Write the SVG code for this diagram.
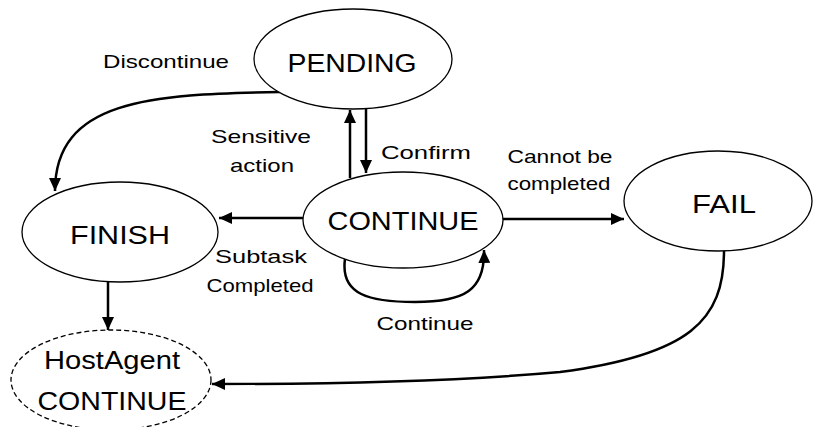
<svg xmlns="http://www.w3.org/2000/svg" width="813" height="427" viewBox="0 0 813 427">
  <style>
    .node { fill: #ffffff; stroke: #000000; stroke-width: 1.3; }
    .dashed { stroke-dasharray: 5 3; }
    .edge { fill: none; stroke: #000000; stroke-width: 2.5; marker-end: url(#arrow); }
    .state { font-family: "Liberation Sans", Arial, sans-serif; font-size: 25px; fill: #000; text-anchor: middle; }
    .label { font-family: "Liberation Sans", Arial, sans-serif; font-size: 19px; fill: #000; text-anchor: middle; }
  </style>
  <defs>
    <marker id="arrow" markerUnits="userSpaceOnUse" markerWidth="13" markerHeight="12" refX="13" refY="6" orient="auto">
      <path d="M0,0 L13,6 L0,12 z" fill="#000"/>
    </marker>
  </defs>

  <rect width="813" height="427" fill="#ffffff"/>

  <!-- transitions -->
  <g id="edges">
    <path class="edge" d="M280 92 C150 94, 55 100, 55 191"/>
    <path class="edge" d="M350 178 L350 110"/>
    <path class="edge" d="M366 108 L366 173"/>
    <path class="edge" d="M303 218 L219 218"/>
    <path class="edge" d="M502 219 L624 219"/>
    <path class="edge" d="M345 259 C340 295, 370 302, 415 302 C465 302, 485 290, 484 250"/>
    <path class="edge" d="M108 282 L108 330"/>
    <path class="edge" d="M724 251 C724 320, 690 355, 560 372 C450 382, 300 384, 212 384"/>
  </g>

  <g id="pending">
    <ellipse class="node" cx="353" cy="59" rx="99" ry="50"/>
    <text class="state" x="352" y="72" textLength="129" lengthAdjust="spacingAndGlyphs">PENDING</text>
  </g>

  <g id="continue">
    <ellipse class="node" cx="403" cy="220" rx="100" ry="48"/>
    <text class="state" x="403" y="230" textLength="151" lengthAdjust="spacingAndGlyphs">CONTINUE</text>
  </g>

  <g id="finish">
    <ellipse class="node" cx="120" cy="232" rx="98" ry="50"/>
    <text class="state" x="120" y="244" textLength="100" lengthAdjust="spacingAndGlyphs">FINISH</text>
  </g>

  <g id="fail">
    <ellipse class="node" cx="718" cy="201" rx="94" ry="50"/>
    <text class="state" x="724" y="213" textLength="64" lengthAdjust="spacingAndGlyphs">FAIL</text>
  </g>

  <g id="hostagent-continue">
    <ellipse class="node dashed" cx="111" cy="380" rx="100" ry="50"/>
    <text class="state" x="112" y="369" textLength="136" lengthAdjust="spacingAndGlyphs">HostAgent</text>
    <text class="state" x="112" y="410" textLength="149" lengthAdjust="spacingAndGlyphs">CONTINUE</text>
  </g>

  <!-- transition labels -->
  <g id="labels">
    <text class="label" x="166" y="68" textLength="126" lengthAdjust="spacingAndGlyphs">Discontinue</text>
    <text class="label" x="261" y="143" textLength="100" lengthAdjust="spacingAndGlyphs">Sensitive</text>
    <text class="label" x="262" y="172" textLength="64" lengthAdjust="spacingAndGlyphs">action</text>
    <text class="label" x="426" y="159" textLength="90" lengthAdjust="spacingAndGlyphs">Confirm</text>
    <text class="label" x="560" y="163" textLength="105" lengthAdjust="spacingAndGlyphs">Cannot be</text>
    <text class="label" x="559" y="190" textLength="103" lengthAdjust="spacingAndGlyphs">completed</text>
    <text class="label" x="261" y="263" textLength="92" lengthAdjust="spacingAndGlyphs">Subtask</text>
    <text class="label" x="260" y="292" textLength="107" lengthAdjust="spacingAndGlyphs">Completed</text>
    <text class="label" x="425" y="330" textLength="97" lengthAdjust="spacingAndGlyphs">Continue</text>
  </g>
</svg>
